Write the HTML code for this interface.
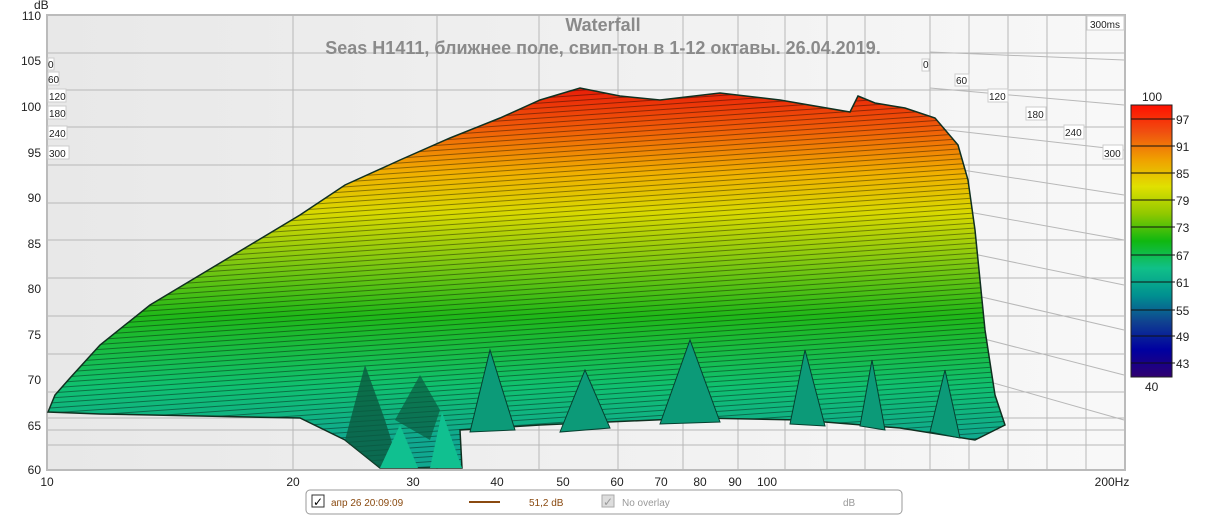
<!DOCTYPE html>
<html><head><meta charset="utf-8"><style>
body{margin:0;background:#fff;width:1207px;height:517px;overflow:hidden;font-family:"Liberation Sans",sans-serif}
</style></head><body>
<svg width="1207" height="517" viewBox="0 0 1207 517" xmlns="http://www.w3.org/2000/svg" font-family="Liberation Sans, DejaVu Sans, sans-serif">
<defs>
<linearGradient id="bg" x1="0" y1="0" x2="1" y2="0"><stop offset="0" stop-color="#e8e8e8"/><stop offset="1" stop-color="#f8f8f8"/></linearGradient>
<linearGradient id="wf" x1="0" y1="85" x2="0" y2="440" gradientUnits="userSpaceOnUse">
<stop offset="0" stop-color="#e81808"/><stop offset="0.12" stop-color="#f05a08"/><stop offset="0.25" stop-color="#f0b000"/><stop offset="0.36" stop-color="#d8d800"/><stop offset="0.5" stop-color="#80c810"/><stop offset="0.65" stop-color="#20b818"/><stop offset="0.85" stop-color="#10c070"/><stop offset="1" stop-color="#10a890"/></linearGradient>
<linearGradient id="cb" x1="0" y1="105" x2="0" y2="377" gradientUnits="userSpaceOnUse">
<stop offset="0" stop-color="#ff1000"/><stop offset="0.1" stop-color="#f05010"/><stop offset="0.2" stop-color="#f0a000"/><stop offset="0.3" stop-color="#e0e000"/><stop offset="0.4" stop-color="#90c800"/><stop offset="0.5" stop-color="#10b810"/><stop offset="0.6" stop-color="#10c088"/><stop offset="0.7" stop-color="#009090"/><stop offset="0.8" stop-color="#104090"/><stop offset="0.9" stop-color="#0000a0"/><stop offset="1" stop-color="#300070"/></linearGradient>
<pattern id="ln" width="8" height="5" patternUnits="userSpaceOnUse" patternTransform="rotate(-4)"><rect width="8" height="1" fill="#000" opacity="0.4"/></pattern>
<clipPath id="cp"><path id="shape" d="M48,412 L55,395 L70,378 L100,345 L150,305 L200,275 L250,245 L300,215 L345,185 L400,160 L450,138 L500,118 L540,100 L580,88 L620,96 L660,100 L720,93 L780,100 L850,112 L858,96 L875,103 L905,108 L935,118 L958,145 L968,180 L975,230 L980,280 L985,330 L995,395 L1005,425 L975,440 L900,428 L800,420 L700,418 L540,425 L460,430 L462,468 L380,468 L345,440 L300,418 L100,414 Z"/></clipPath>
</defs>
<rect x="47" y="15" width="1078" height="455" fill="url(#bg)" stroke="#bbb" stroke-width="2"/>
<g stroke="#b8b8b8" stroke-width="1" fill="none">
<line x1="48" y1="53" x2="1124" y2="53"/><line x1="48" y1="90" x2="1124" y2="90"/><line x1="48" y1="127" x2="1124" y2="127"/><line x1="48" y1="165" x2="1124" y2="165"/><line x1="48" y1="203" x2="1124" y2="203"/><line x1="48" y1="240" x2="1124" y2="240"/><line x1="48" y1="278" x2="1124" y2="278"/><line x1="48" y1="316" x2="1124" y2="316"/><line x1="48" y1="354" x2="1124" y2="354"/><line x1="48" y1="392" x2="1124" y2="392"/><line x1="48" y1="430" x2="1124" y2="430"/>
<line x1="293" y1="15" x2="293" y2="470"/><line x1="437" y1="15" x2="437" y2="470"/><line x1="539" y1="15" x2="539" y2="470"/><line x1="618" y1="15" x2="618" y2="470"/><line x1="683" y1="15" x2="683" y2="470"/><line x1="738" y1="15" x2="738" y2="470"/><line x1="785" y1="15" x2="785" y2="470"/><line x1="827" y1="15" x2="827" y2="470"/><line x1="865" y1="15" x2="865" y2="470"/><line x1="930" y1="15" x2="930" y2="470"/><line x1="969" y1="15" x2="969" y2="470"/><line x1="1008" y1="15" x2="1008" y2="470"/><line x1="1047" y1="15" x2="1047" y2="470"/><line x1="1086" y1="15" x2="1086" y2="470"/>
<line x1="930" y1="52" x2="1124" y2="60"/><line x1="930" y1="88" x2="1124" y2="105"/><line x1="930" y1="128" x2="1124" y2="150"/><line x1="930" y1="165" x2="1124" y2="195"/><line x1="930" y1="205" x2="1124" y2="240"/><line x1="930" y1="245" x2="1124" y2="285"/><line x1="930" y1="285" x2="1124" y2="330"/><line x1="930" y1="325" x2="1124" y2="375"/><line x1="930" y1="365" x2="1124" y2="420"/>
<line x1="48" y1="418" x2="1124" y2="418"/><line x1="48" y1="445" x2="1124" y2="445"/>
</g>
<g clip-path="url(#cp)"><rect x="40" y="80" width="980" height="400" fill="url(#wf)"/><rect x="40" y="80" width="980" height="400" fill="url(#ln)"/></g>
<use href="#shape" fill="none" stroke="#103020" stroke-width="1.5"/>
<g fill="#0c9a78" stroke="#064030" stroke-width="1">
<path d="M470,432 L490,350 L515,430 Z"/><path d="M560,432 L585,370 L610,428 Z"/><path d="M660,424 L690,340 L720,422 Z"/><path d="M790,424 L805,350 L825,426 Z"/><path d="M860,426 L872,360 L885,430 Z"/><path d="M930,432 L945,370 L960,438 Z"/>
</g>
<path d="M345,440 L365,365 L385,420 L400,468 L380,468 Z" fill="#0a5a40" opacity="0.8"/>
<path d="M395,420 L420,375 L440,410 L430,440 Z" fill="#0a5a40" opacity="0.7"/>
<path d="M380,468 L400,425 L418,468 Z M430,468 L442,412 L462,468 Z" fill="#10c090"/>
<g font-size="12" fill="#222" text-anchor="end">
<text x="41" y="20">110</text><text x="41" y="65">105</text><text x="41" y="111">100</text><text x="41" y="157">95</text><text x="41" y="202">90</text><text x="41" y="248">85</text><text x="41" y="293">80</text><text x="41" y="339">75</text><text x="41" y="384">70</text><text x="41" y="430">65</text><text x="41" y="474">60</text>
</g>
<text x="34" y="9" font-size="12" fill="#222">dB</text>
<g font-size="12" fill="#222" text-anchor="middle">
<text x="47" y="486">10</text><text x="293" y="486">20</text><text x="413" y="486">30</text><text x="497" y="486">40</text><text x="563" y="486">50</text><text x="617" y="486">60</text><text x="661" y="486">70</text><text x="700" y="486">80</text><text x="735" y="486">90</text><text x="767" y="486">100</text><text x="1112" y="486">200Hz</text>
</g>
<g font-size="10" fill="#222">
<rect x="48" y="58" width="6" height="12" fill="#fff" stroke="#ccc"/><text x="48" y="68">0</text>
<rect x="48" y="72" width="11" height="13" fill="#fff" stroke="#ccc"/><text x="48" y="83">60</text>
<rect x="48" y="89" width="18" height="13" fill="#fff" stroke="#ccc"/><text x="49" y="100">120</text>
<rect x="48" y="106" width="18" height="13" fill="#fff" stroke="#ccc"/><text x="49" y="117">180</text>
<rect x="48" y="126" width="19" height="13" fill="#fff" stroke="#ccc"/><text x="49" y="137">240</text>
<rect x="48" y="146" width="21" height="13" fill="#fff" stroke="#ccc"/><text x="49" y="157">300</text>
<rect x="922" y="59" width="7" height="12" fill="#fff" stroke="#ccc"/><text x="923" y="68">0</text>
<rect x="955" y="74" width="14" height="12" fill="#fff" stroke="#ccc"/><text x="956" y="84">60</text>
<rect x="988" y="89" width="20" height="13" fill="#fff" stroke="#ccc"/><text x="989" y="100">120</text>
<rect x="1026" y="107" width="20" height="13" fill="#fff" stroke="#ccc"/><text x="1027" y="118">180</text>
<rect x="1064" y="125" width="20" height="14" fill="#fff" stroke="#ccc"/><text x="1065" y="136">240</text>
<rect x="1103" y="145" width="20" height="14" fill="#fff" stroke="#ccc"/><text x="1104" y="157">300</text>
<rect x="1087" y="16" width="37" height="14" fill="#fff" stroke="#ccc"/><text x="1090" y="28">300ms</text>
</g>
<text x="603" y="31" font-size="18" font-weight="bold" fill="#8a8a8a" text-anchor="middle">Waterfall</text>
<text x="603" y="54" font-size="18" font-weight="bold" fill="#8a8a8a" text-anchor="middle">Seas H1411, ближнее поле, свип-тон в 1-12 октавы. 26.04.2019.</text>
<rect x="1131" y="105" width="41" height="272" fill="url(#cb)" stroke="#222"/>
<g stroke="#111"><line x1="1131" y1="119" x2="1175" y2="119"/><line x1="1131" y1="146" x2="1175" y2="146"/><line x1="1131" y1="173" x2="1175" y2="173"/><line x1="1131" y1="200" x2="1175" y2="200"/><line x1="1131" y1="227" x2="1175" y2="227"/><line x1="1131" y1="255" x2="1175" y2="255"/><line x1="1131" y1="282" x2="1175" y2="282"/><line x1="1131" y1="310" x2="1175" y2="310"/><line x1="1131" y1="336" x2="1175" y2="336"/><line x1="1131" y1="363" x2="1175" y2="363"/></g>
<g font-size="12" fill="#222"><text x="1142" y="101">100</text><text x="1176" y="124">97</text><text x="1176" y="151">91</text><text x="1176" y="178">85</text><text x="1176" y="205">79</text><text x="1176" y="232">73</text><text x="1176" y="260">67</text><text x="1176" y="287">61</text><text x="1176" y="315">55</text><text x="1176" y="341">49</text><text x="1176" y="368">43</text><text x="1145" y="391">40</text></g>
<rect x="306" y="490" width="596" height="24" rx="4" fill="#fff" stroke="#999"/>
<rect x="312" y="495" width="12" height="12" fill="#fff" stroke="#333"/><text x="313" y="506" font-size="12">✓</text>
<text x="331" y="506" font-size="10" fill="#8a4a10">апр 26 20:09:09</text>
<line x1="469" y1="502" x2="500" y2="502" stroke="#8a4a10" stroke-width="2"/>
<text x="529" y="506" font-size="10" fill="#8a4a10">51,2 dB</text>
<rect x="602" y="495" width="12" height="12" fill="#ddd" stroke="#aaa"/><text x="603" y="506" font-size="12" fill="#999">✓</text>
<text x="622" y="506" font-size="10" fill="#999">No overlay</text>
<text x="843" y="506" font-size="10" fill="#999">dB</text>
</svg>
</body></html>
